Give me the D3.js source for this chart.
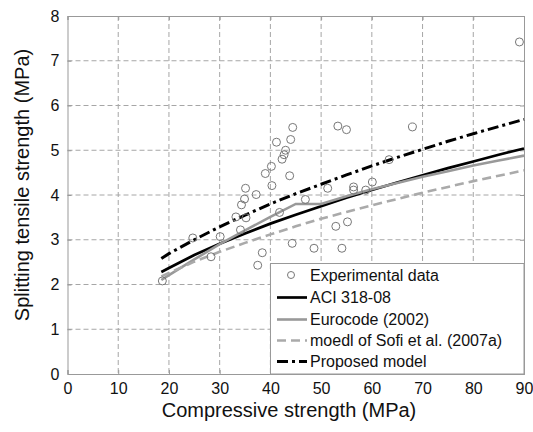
<!DOCTYPE html>
<html><head><meta charset="utf-8">
<script src="https://cdn.jsdelivr.net/npm/d3@7"></script>
<style>body{margin:0;background:#fff}svg{display:block;font-family:"Liberation Sans",Arial,sans-serif}</style>
</head><body><svg id="c" width="533" height="432"></svg>
<script>
const xTicks = [0,10,20,30,40,50,60,70,80,90];
const yTicks = [0,1,2,3,4,5,6,7,8];
const expFc = [89.1,53.3,55.0,68.0,44.4,44.0,41.2,43.0,42.7,42.3,40.2,39.0,43.8,40.3,35.1,37.2,34.9,34.3,51.3,46.9,56.4,56.4,58.8,60.1,63.4,33.2,35.2,41.8,34.1,30.1,24.7,52.9,55.2,44.3,48.6,54.1,38.4,28.3,37.5,18.7];
const expFt = [7.42,5.54,5.46,5.52,5.51,5.24,5.18,5.00,4.90,4.80,4.64,4.48,4.43,4.21,4.15,4.01,3.91,3.78,4.15,3.90,4.18,4.11,4.11,4.29,4.79,3.51,3.49,3.61,3.22,3.07,3.04,3.30,3.40,2.92,2.81,2.81,2.71,2.62,2.43,2.08];
const curveFc = [18.5,20,25,30,35,40,45,50,55,60,65,70,75,80,85,90];
const aci = [2.28,2.37,2.66,2.91,3.14,3.36,3.56,3.75,3.94,4.11,4.28,4.44,4.60,4.75,4.90,5.04];
const euro = [2.10,2.21,2.56,2.90,3.21,3.51,3.80,3.80,3.97,4.13,4.27,4.41,4.53,4.66,4.77,4.88];
const sofi = [2.18,2.26,2.51,2.73,2.93,3.12,3.30,3.47,3.62,3.77,3.91,4.05,4.18,4.31,4.43,4.55];
const proposed = [2.58,2.69,3.00,3.29,3.55,3.80,4.03,4.24,4.45,4.65,4.84,5.02,5.20,5.37,5.53,5.69];
const seriesNames = ["ACI 318-08","Eurocode (2002)","moedl of Sofi et al. (2007a)","Proposed model"];

const svg = d3.select("#c");
const L=67.5, R=524, T=16, B=374;
const x = d3.scaleLinear().domain([0,90]).range([L,R]);
const y = d3.scaleLinear().domain([0,8]).range([B,T]);

// grid
const g = svg.append("g");
g.selectAll(".gx").data(xTicks.slice(1,-1)).enter().append("line")
 .attr("x1",d=>x(d)).attr("x2",d=>x(d)).attr("y1",T).attr("y2",B)
 .attr("stroke","#a6a6a6").attr("stroke-width",1).attr("stroke-dasharray","5,3");
g.selectAll(".gy").data(yTicks.slice(1,-1)).enter().append("line")
 .attr("y1",d=>y(d)).attr("y2",d=>y(d)).attr("x1",L).attr("x2",R)
 .attr("stroke","#a6a6a6").attr("stroke-width",1).attr("stroke-dasharray","5,3");

// axes
svg.append("g").attr("transform",`translate(0,${B})`)
 .call(d3.axisBottom(x).tickValues(xTicks).tickSize(-4).tickPadding(9));
svg.append("g").attr("transform",`translate(${L},0)`)
 .call(d3.axisLeft(y).tickValues(yTicks).tickSize(-4).tickPadding(8));
svg.append("g").attr("transform",`translate(0,${T})`)
 .call(d3.axisTop(x).tickValues(xTicks).tickSize(-4).tickFormat(""));
svg.append("g").attr("transform",`translate(${R},0)`)
 .call(d3.axisRight(y).tickValues(yTicks).tickSize(-4).tickFormat(""));
svg.selectAll(".domain").attr("stroke","#999");
svg.selectAll(".tick line").attr("stroke","#999");
svg.selectAll(".tick text").attr("font-size",16).attr("fill","#111")
 .attr("font-family","Liberation Sans, Arial, sans-serif");

// curves
const line = d3.line().x((d,i)=>x(curveFc[i])).y(d=>y(d));
const styles = [
 {data:aci, stroke:"#000", w:2.7, dash:null},
 {data:euro, stroke:"#999", w:2.6, dash:null},
 {data:sofi, stroke:"#aaa", w:2.6, dash:"9,5"},
 {data:proposed, stroke:"#000", w:3, dash:"11,4,3,4"}
];
styles.forEach(s=>{
 svg.append("path").attr("d",line(s.data)).attr("fill","none")
  .attr("stroke",s.stroke).attr("stroke-width",s.w)
  .attr("stroke-dasharray",s.dash);
});

// experimental points
svg.selectAll(".pt").data(expFc).enter().append("circle")
 .attr("cx",d=>x(d)).attr("cy",(d,i)=>y(expFt[i])).attr("r",4)
 .attr("fill","none").attr("stroke","#777").attr("stroke-width",1);

// legend
const lg = svg.append("g");
lg.append("rect").attr("x",270.5).attr("y",263.5).attr("width",R-270.5).attr("height",B-263.5)
 .attr("fill","#fff").attr("stroke","#999").attr("stroke-width",1);
const ly = [275,297.5,319.5,340.5,361.5];
lg.append("circle").attr("cx",291).attr("cy",ly[0]).attr("r",3.5)
 .attr("fill","none").attr("stroke","#777").attr("stroke-width",1);
lg.append("text").attr("x",310).attr("y",ly[0]).attr("dy","0.35em").attr("font-size",16).attr("fill","#111").text("Experimental data");
styles.forEach((s,i)=>{
 lg.append("line").attr("x1",277).attr("x2",307).attr("y1",ly[i+1]).attr("y2",ly[i+1])
  .attr("stroke",s.stroke).attr("stroke-width",s.w).attr("stroke-dasharray",s.dash);
 lg.append("text").attr("x",310).attr("y",ly[i+1]).attr("dy","0.35em").attr("font-size",16).attr("fill","#111").text(seriesNames[i]);
});

// axis titles
svg.append("text").attr("x",289).attr("y",417).attr("text-anchor","middle")
 .attr("font-size",20).attr("fill","#111").text("Compressive strength (MPa)");
svg.append("text").attr("transform","translate(29,185) rotate(-90)").attr("text-anchor","middle")
 .attr("font-size",20).attr("fill","#111").text("Splitting tensile strength (MPa)");
</script></body></html>
